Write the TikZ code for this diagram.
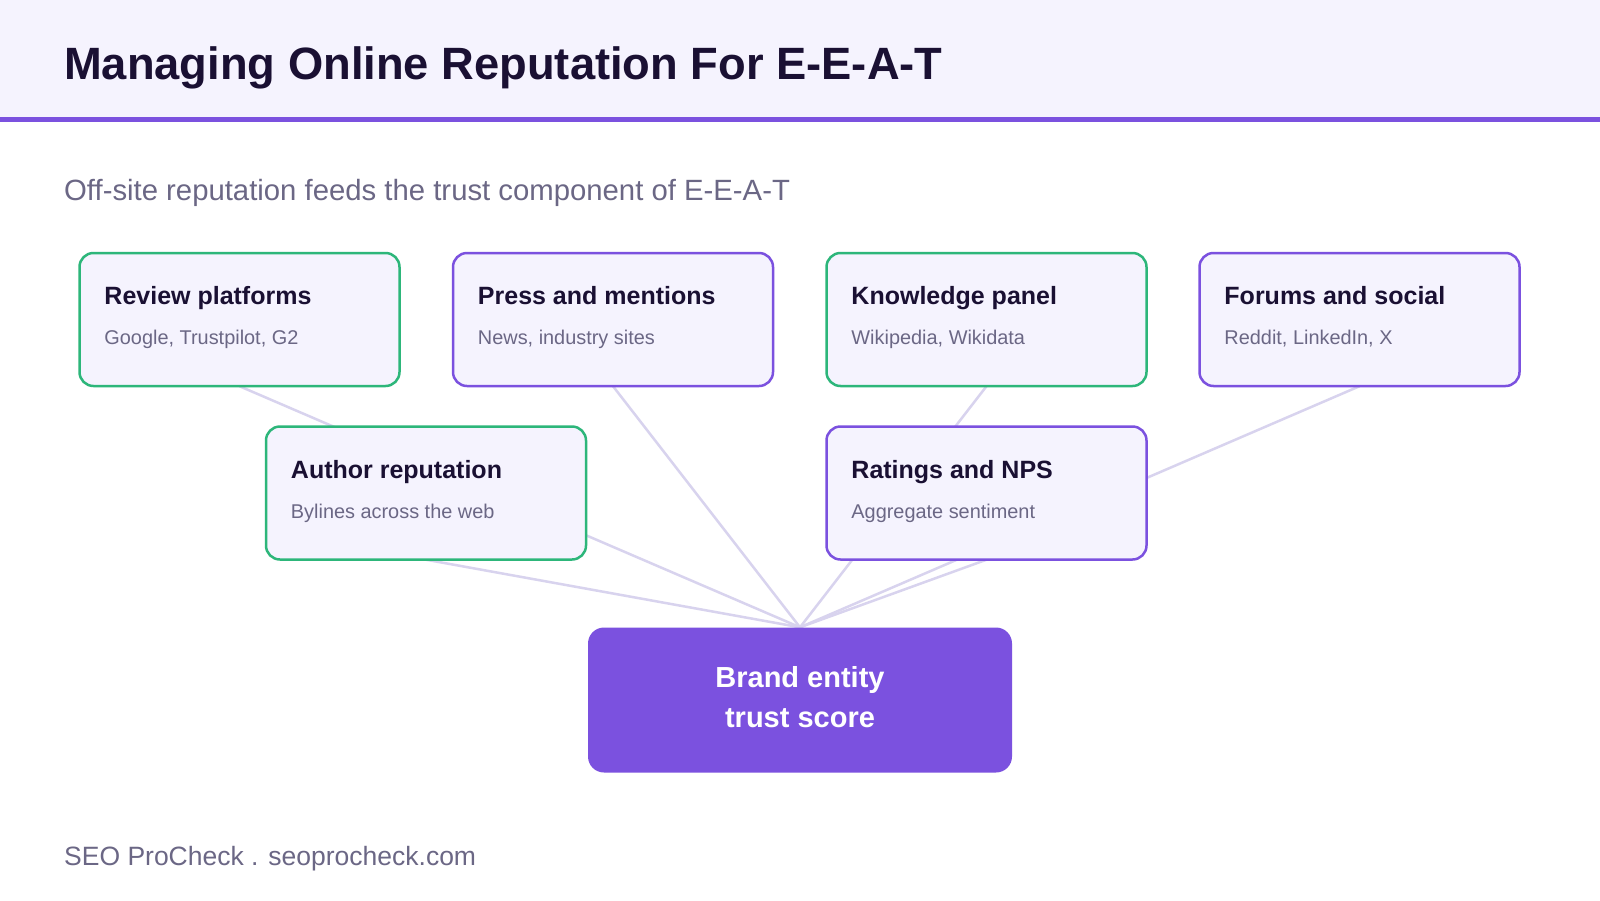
\documentclass[tikz,border=0pt]{standalone}
\usepackage{fontspec}
\setmainfont{Liberation Sans}
\definecolor{hdrbg}{HTML}{F5F3FE}
\definecolor{boxbg}{HTML}{F5F3FE}
\definecolor{accent}{HTML}{7B51DF}
\definecolor{greenb}{HTML}{2DB67A}
\definecolor{dark}{HTML}{1A1033}
\definecolor{muted}{HTML}{6B6785}
\definecolor{conn}{HTML}{D8D3EE}
\tikzset{
  card/.style={draw=#1, fill=boxbg, line width=2.5pt, rounded corners=14pt,
    minimum width=320pt, minimum height=133pt, inner sep=0pt},
  ghost/.style={minimum width=320pt, minimum height=133pt, inner sep=0pt},
  ttl/.style={anchor=base west, inner sep=0pt, text=dark,
    font=\fontsize{25}{30}\selectfont\bfseries},
  sub/.style={anchor=base west, inner sep=0pt, text=muted,
    font=\fontsize{19.9}{24}\selectfont},
  link/.style={draw=conn, line width=2.5pt}
}
\begin{document}
\begin{tikzpicture}[x=1pt,y=-1pt]
\useasboundingbox (0,0) rectangle (1600,900);
\fill[white] (0,0) rectangle (1600,900);
\fill[hdrbg] (0,0) rectangle (1600,117);
\fill[accent] (0,117) rectangle (1600,122);
\node[anchor=base west, inner sep=0pt, text=dark, font=\fontsize{45.3}{52}\selectfont\bfseries] (title) at (64,79) {Managing Online Reputation For E-E-A-T};
\node[anchor=base west, inner sep=0pt, text=muted, font=\fontsize{29.3}{34}\selectfont] (subtitle) at (64,200) {Off-site reputation feeds the trust component of E-E-A-T};

% positions
\coordinate (c1) at (239.5,319.5);
\coordinate (c2) at (613,319.5);
\coordinate (c3) at (986.5,319.5);
\coordinate (c4) at (1359.5,319.5);
\coordinate (c5) at (426,493);
\coordinate (c6) at (986.5,493);
\coordinate (cb) at (800,700);

% invisible anchors for connectors (same geometry as the cards)
\path (c1) node[ghost] (reviewA) {};
\path (c2) node[ghost] (pressA) {};
\path (c3) node[ghost] (knowledgeA) {};
\path (c4) node[ghost] (forumsA) {};
\path (c5) node[ghost] (authorA) {};
\path (c6) node[ghost] (ratingsA) {};
\path (cb) node[minimum width=424pt, minimum height=145pt, inner sep=0pt] (brandA) {};

% connectors (drawn first, cards cover them)
\draw[link] (reviewA.south) -- (brandA.north);
\draw[link] (pressA.south) -- (brandA.north);
\draw[link] (knowledgeA.south) -- (brandA.north);
\draw[link] (forumsA.south) -- (brandA.north);
\draw[link] (authorA.south) -- (brandA.north);
\draw[link] (ratingsA.south) -- (brandA.north);

% cards
\node[card=greenb] (review) at (c1) {};
\node[card=accent] (press) at (c2) {};
\node[card=greenb] (knowledge) at (c3) {};
\node[card=accent] (forums) at (c4) {};
\node[card=greenb] (author) at (c5) {};
\node[card=accent] (ratings) at (c6) {};

\node[ttl] (reviewT) at ([xshift=26pt,yshift=-53pt]review.north west) {Review platforms};
\node[sub] (reviewS) at ([xshift=26pt,yshift=-93pt]review.north west) {Google, Trustpilot, G2};
\node[ttl] (pressT) at ([xshift=26pt,yshift=-53pt]press.north west) {Press and mentions};
\node[sub] (pressS) at ([xshift=26pt,yshift=-93pt]press.north west) {News, industry sites};
\node[ttl] (knowledgeT) at ([xshift=26pt,yshift=-53pt]knowledge.north west) {Knowledge panel};
\node[sub] (knowledgeS) at ([xshift=26pt,yshift=-93pt]knowledge.north west) {Wikipedia, Wikidata};
\node[ttl] (forumsT) at ([xshift=26pt,yshift=-53pt]forums.north west) {Forums and social};
\node[sub] (forumsS) at ([xshift=26pt,yshift=-93pt]forums.north west) {Reddit, LinkedIn, X};
\node[ttl] (authorT) at ([xshift=26pt,yshift=-53pt]author.north west) {Author reputation};
\node[sub] (authorS) at ([xshift=26pt,yshift=-93pt]author.north west) {Bylines across the web};
\node[ttl] (ratingsT) at ([xshift=26pt,yshift=-53pt]ratings.north west) {Ratings and NPS};
\node[sub] (ratingsS) at ([xshift=26pt,yshift=-93pt]ratings.north west) {Aggregate sentiment};

% brand
\node[fill=accent, rounded corners=16pt, minimum width=424pt, minimum height=145pt, inner sep=0pt] (brand) at (cb) {};
\node[anchor=base, inner sep=0pt, text=white, font=\fontsize{29}{34}\selectfont\bfseries] (brandT1) at (800,687) {Brand entity};
\node[anchor=base, inner sep=0pt, text=white, font=\fontsize{29}{34}\selectfont\bfseries] (brandT2) at (800,727) {trust score};

% footer
\node[anchor=base west, inner sep=0pt, text=muted, font=\fontsize{26.5}{32}\selectfont] (footer) at (64,865) {SEO ProCheck . seoprocheck.com};
\end{tikzpicture}
\end{document}
